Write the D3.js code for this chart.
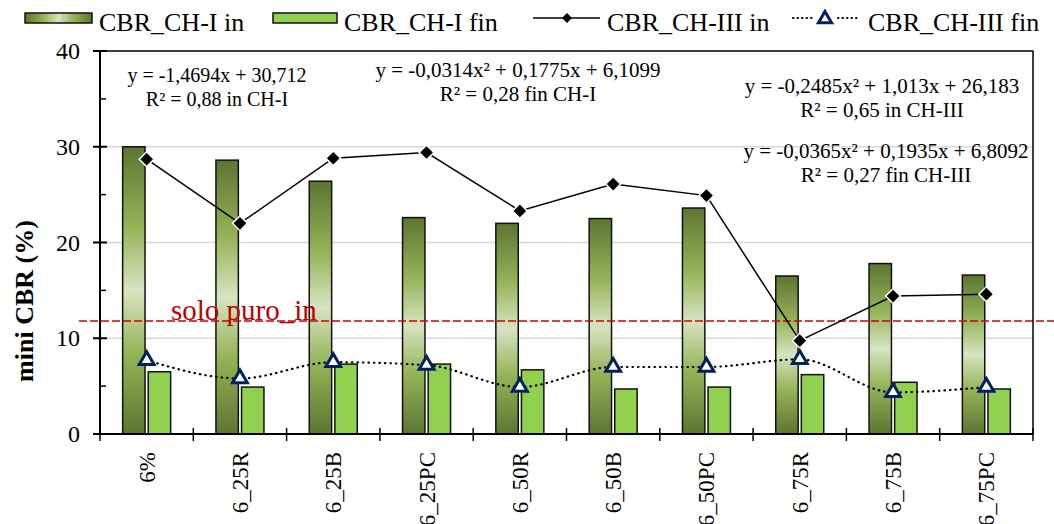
<!DOCTYPE html>
<html>
<head>
<meta charset="utf-8">
<script src="https://cdn.jsdelivr.net/npm/d3@7"></script>
<style>
  body { margin: 0; background: #fff; }
  svg { display: block; font-family: "Liberation Serif", "Times New Roman", serif; }
</style>
</head>
<body>
<svg id="chart" width="1054" height="524"></svg>
<script>
// data
const categories = ['6%', '6_25R', '6_25B', '6_25PC', '6_50R', '6_50B', '6_50PC', '6_75R', '6_75B', '6_75PC']
const ch1In = [30.0, 28.6, 26.4, 22.6, 22.0, 22.5, 23.6, 16.5, 17.8, 16.6]
const ch1Fin = [6.5, 4.9, 7.3, 7.3, 6.7, 4.7, 4.9, 6.2, 5.4, 4.7]
const ch3In = [28.7, 22.0, 28.8, 29.4, 23.3, 26.1, 24.9, 9.75, 14.4, 14.6]
const ch3Fin = [7.7, 5.8, 7.5, 7.2, 4.9, 7.0, 7.0, 7.8, 4.35, 4.9]
const yTicks = [0, 10, 20, 30, 40]
const yMinorTicks = [5, 15, 25, 35]
const soloPuro = 11.8
const legendLabels = ['CBR_CH-I in', 'CBR_CH-I fin', 'CBR_CH-III in', 'CBR_CH-III fin']
const equations = [
  { lines: ['y = -1,4694x + 30,712', 'R² = 0,88 in CH-I'], x: 217, y: 82, size: 20 },
  { lines: ['y = -0,0314x² + 0,1775x + 6,1099', 'R² = 0,28 fin CH-I'], x: 518, y: 77, size: 21 },
  { lines: ['y = -0,2485x² + 1,013x + 26,183', 'R² = 0,65 in CH-III'], x: 882, y: 93, size: 21 },
  { lines: ['y = -0,0365x² + 0,1935x + 6,8092', 'R² = 0,27 fin CH-III'], x: 886, y: 158, size: 21 }
]

const svg = d3.select('#chart')
const plotLeft = 100
const plotRight = 1033
const plotTop = 51
const plotBottom = 434

const x = d3.scaleBand().domain(categories).range([plotLeft, plotRight]).padding(0)
const sub = d3.scaleBand().domain(['in', 'fin']).range([-24, 24]).paddingInner(0.125)
const y = d3.scaleLinear().domain([0, 40]).range([plotBottom, plotTop])
const cx = c => x(c) + x.bandwidth() / 2

const defs = svg.append('defs')
const vGrad = defs.append('linearGradient').attr('id', 'barGrad')
  .attr('x1', 0).attr('y1', 0).attr('x2', 0).attr('y2', 1)
const hGrad = defs.append('linearGradient').attr('id', 'legGrad')
  .attr('x1', 0).attr('y1', 0).attr('x2', 1).attr('y2', 0)
const stops = [[0, '#5d7531'], [0.28, '#95b457'], [0.5, '#d8e4c2'], [0.72, '#95b457'], [1, '#5d7531']]
for (const g of [vGrad, hGrad]) {
  stops.forEach(s => g.append('stop').attr('offset', s[0]).attr('stop-color', s[1]))
}

// gridlines
svg.append('g').selectAll('line')
  .data([10, 20, 30])
  .enter().append('line')
  .attr('x1', plotLeft).attr('x2', plotRight)
  .attr('y1', d => y(d)).attr('y2', d => y(d))
  .attr('stroke', '#d9d9d9').attr('stroke-width', 1.5)

// bars
const bars = svg.append('g')
bars.selectAll('.bar-in')
  .data(categories)
  .enter().append('rect')
  .attr('class', 'bar-in')
  .attr('x', c => cx(c) + sub('in'))
  .attr('width', sub.bandwidth())
  .attr('y', (c, i) => y(ch1In[i]))
  .attr('height', (c, i) => plotBottom - y(ch1In[i]))
  .attr('fill', 'url(#barGrad)')
  .attr('stroke', '#111').attr('stroke-width', 1.5)

bars.selectAll('.bar-fin')
  .data(categories)
  .enter().append('rect')
  .attr('class', 'bar-fin')
  .attr('x', c => cx(c) + sub('fin'))
  .attr('width', sub.bandwidth())
  .attr('y', (c, i) => y(ch1Fin[i]))
  .attr('height', (c, i) => plotBottom - y(ch1Fin[i]))
  .attr('fill', '#92d050')
  .attr('stroke', '#111').attr('stroke-width', 1.5)

// solo puro reference line
svg.append('line')
  .attr('x1', 79).attr('x2', 1054)
  .attr('y1', y(soloPuro)).attr('y2', y(soloPuro))
  .attr('stroke', '#d40000').attr('stroke-width', 1.5)
  .attr('stroke-dasharray', '8,3')
svg.append('text')
  .attr('x', 171).attr('y', y(soloPuro) - 1)
  .attr('fill', '#c00000').attr('font-size', 29)
  .text('solo puro_in')

// CH-III in line + diamonds
const lineIn = d3.line().x((d, i) => cx(categories[i])).y(d => y(d))
svg.append('path')
  .datum(ch3In)
  .attr('d', lineIn)
  .attr('fill', 'none').attr('stroke', '#000').attr('stroke-width', 1.5)

// CH-III fin smooth dotted line
const lineFin = d3.line().x((d, i) => cx(categories[i])).y(d => y(d)).curve(d3.curveMonotoneX)
svg.append('path')
  .datum(ch3Fin)
  .attr('d', lineFin)
  .attr('fill', 'none').attr('stroke', '#000').attr('stroke-width', 2.2)
  .attr('stroke-dasharray', '0.5,5').attr('stroke-linecap', 'round')

const diamond = d3.symbol().type(d3.symbolSquare).size(110)
svg.append('g').selectAll('path')
  .data(ch3In)
  .enter().append('path')
  .attr('d', diamond)
  .attr('transform', (d, i) => `translate(${cx(categories[i])},${y(d)}) rotate(45)`)
  .attr('fill', '#000').attr('stroke', '#fff').attr('stroke-width', 1.5)

const tri = d3.symbol().type(d3.symbolTriangle).size(95)
svg.append('g').selectAll('path')
  .data(ch3Fin)
  .enter().append('path')
  .attr('d', tri)
  .attr('transform', (d, i) => `translate(${cx(categories[i])},${y(d)})`)
  .attr('fill', '#fff').attr('stroke', '#002060').attr('stroke-width', 3)
  .attr('stroke-linejoin', 'miter')

// plot frame
svg.append('rect')
  .attr('x', plotLeft).attr('y', plotTop)
  .attr('width', plotRight - plotLeft).attr('height', plotBottom - plotTop)
  .attr('fill', 'none').attr('stroke', '#000').attr('stroke-width', 1.5)
svg.append('line')
  .attr('x1', plotLeft).attr('x2', plotLeft).attr('y1', plotTop).attr('y2', plotBottom)
  .attr('stroke', '#000').attr('stroke-width', 2)
svg.append('line')
  .attr('x1', plotLeft).attr('x2', plotRight).attr('y1', plotBottom).attr('y2', plotBottom)
  .attr('stroke', '#000').attr('stroke-width', 2)

// y axis ticks and labels
const yAxis = svg.append('g')
yAxis.selectAll('.major')
  .data(yTicks)
  .enter().append('line')
  .attr('x1', plotLeft - 7).attr('x2', plotLeft + 7)
  .attr('y1', d => y(d)).attr('y2', d => y(d))
  .attr('stroke', '#000').attr('stroke-width', 2)
yAxis.selectAll('.minor')
  .data(yMinorTicks)
  .enter().append('line')
  .attr('x1', plotLeft).attr('x2', plotLeft + 6)
  .attr('y1', d => y(d)).attr('y2', d => y(d))
  .attr('stroke', '#000').attr('stroke-width', 1.5)
yAxis.selectAll('text')
  .data(yTicks)
  .enter().append('text')
  .attr('x', plotLeft - 20).attr('y', d => y(d) + 8)
  .attr('text-anchor', 'end').attr('font-size', 24)
  .text(d => d)

svg.append('text')
  .attr('transform', 'translate(33,301) rotate(-90)')
  .attr('text-anchor', 'middle')
  .attr('font-size', 26).attr('font-weight', 'bold')
  .text('mini CBR (%)')

// x axis ticks and labels
const xAxis = svg.append('g')
xAxis.selectAll('line')
  .data(categories.concat(['end']))
  .enter().append('line')
  .attr('x1', (c, i) => plotLeft + i * x.step()).attr('x2', (c, i) => plotLeft + i * x.step())
  .attr('y1', plotBottom - 6).attr('y2', plotBottom + 7)
  .attr('stroke', '#000').attr('stroke-width', 1.5)
xAxis.selectAll('text')
  .data(categories)
  .enter().append('text')
  .attr('transform', c => `translate(${cx(c) + 8},452) rotate(-90)`)
  .attr('text-anchor', 'end').attr('font-size', 23)
  .text(c => c)

// trendline equations
equations.forEach(eq => {
  const t = svg.append('text').attr('text-anchor', 'middle').attr('font-size', eq.size)
  eq.lines.forEach((l, i) => {
    t.append('tspan').attr('x', eq.x).attr('y', eq.y + i * 24).text(l)
  })
})

// legend
const leg = svg.append('g').attr('font-size', 26)
leg.append('rect').attr('x', 25).attr('y', 13).attr('width', 67).attr('height', 10)
  .attr('fill', 'url(#legGrad)').attr('stroke', '#111').attr('stroke-width', 1.5)
leg.append('text').attr('x', 99).attr('y', 31).text(legendLabels[0])
leg.append('rect').attr('x', 273).attr('y', 13).attr('width', 64).attr('height', 10)
  .attr('fill', '#92d050').attr('stroke', '#111').attr('stroke-width', 1.5)
leg.append('text').attr('x', 344).attr('y', 31).text(legendLabels[1])
leg.append('line').attr('x1', 533).attr('x2', 600).attr('y1', 18).attr('y2', 18)
  .attr('stroke', '#000').attr('stroke-width', 1.5)
leg.append('path').attr('d', d3.symbol().type(d3.symbolSquare).size(50))
  .attr('transform', 'translate(567,18) rotate(45)').attr('fill', '#000')
leg.append('text').attr('x', 607).attr('y', 31).text(legendLabels[2])
leg.append('line').attr('x1', 793).attr('x2', 857).attr('y1', 18).attr('y2', 18)
  .attr('stroke', '#000').attr('stroke-width', 2).attr('stroke-dasharray', '0.5,4').attr('stroke-linecap', 'round')
leg.append('rect').attr('x', 813).attr('y', 8).attr('width', 24).attr('height', 18).attr('fill', '#fff')
leg.append('path').attr('d', d3.symbol().type(d3.symbolTriangle).size(75))
  .attr('transform', 'translate(825,19)')
  .attr('fill', '#fff').attr('stroke', '#002060').attr('stroke-width', 3)
leg.append('text').attr('x', 868).attr('y', 31).text(legendLabels[3])
</script>
</body>
</html>
